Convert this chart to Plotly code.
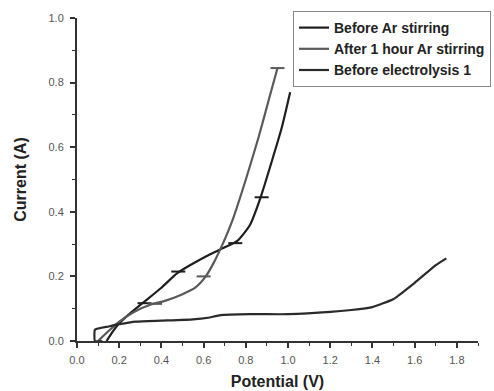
import plotly.graph_objects as go

# Data
before_ar_v = [0.14, 0.17, 0.20, 0.25, 0.31, 0.40, 0.475, 0.55, 0.62, 0.70, 0.76, 0.82, 0.87, 0.92, 0.97, 1.01]
before_ar_i = [0.0, 0.03, 0.055, 0.085, 0.117, 0.165, 0.21, 0.24, 0.265, 0.29, 0.31, 0.36, 0.445, 0.55, 0.66, 0.77]

after_ar_v = [0.10, 0.14, 0.20, 0.27, 0.35, 0.42, 0.50, 0.56, 0.61, 0.65, 0.69, 0.74, 0.80, 0.86, 0.91, 0.95]
after_ar_i = [0.0, 0.025, 0.06, 0.09, 0.113, 0.125, 0.145, 0.165, 0.2, 0.245, 0.3, 0.38, 0.50, 0.63, 0.75, 0.845]

electro_v = [0.12, 0.085, 0.085, 0.15, 0.20, 0.28, 0.40, 0.55, 0.62, 0.68, 0.82, 1.0, 1.2, 1.3, 1.4, 1.5, 1.6, 1.7, 1.75]
electro_i = [0.0, 0.0, 0.035, 0.045, 0.052, 0.06, 0.063, 0.067, 0.072, 0.08, 0.083, 0.083, 0.09, 0.096, 0.105, 0.13, 0.18, 0.235, 0.256]

# Small dash marks visible on the curves
before_ar_mark_v = [0.32, 0.48, 0.75, 0.875]
before_ar_mark_i = [0.117, 0.215, 0.303, 0.445]
after_ar_mark_v = [0.37, 0.60, 0.95]
after_ar_mark_i = [0.115, 0.2, 0.845]

series_names = ["Before Ar stirring", "After 1 hour Ar stirring", "Before electrolysis 1"]

x_ticks = [0.0, 0.2, 0.4, 0.6, 0.8, 1.0, 1.2, 1.4, 1.6, 1.8]
y_ticks = [0.0, 0.2, 0.4, 0.6, 0.8, 1.0]

c_before = "#1e1e1e"
c_after = "#5a5a5a"
c_elec = "#2a2a2a"

fig = go.Figure()
fig.add_trace(go.Scatter(x=before_ar_v, y=before_ar_i, mode="lines", name=series_names[0],
                         line=dict(color=c_before, width=2.2, shape="spline", smoothing=0.6)))
fig.add_trace(go.Scatter(x=after_ar_v, y=after_ar_i, mode="lines", name=series_names[1],
                         line=dict(color=c_after, width=2.2, shape="spline", smoothing=0.6)))
fig.add_trace(go.Scatter(x=electro_v, y=electro_i, mode="lines", name=series_names[2],
                         line=dict(color=c_elec, width=2.2, shape="spline", smoothing=0.4)))
fig.add_trace(go.Scatter(x=before_ar_mark_v, y=before_ar_mark_i, mode="markers", showlegend=False,
                         marker=dict(symbol="line-ew", size=10, line=dict(color=c_before, width=2))))
fig.add_trace(go.Scatter(x=after_ar_mark_v, y=after_ar_mark_i, mode="markers", showlegend=False,
                         marker=dict(symbol="line-ew", size=10, line=dict(color=c_after, width=2))))

font_family = "Liberation Sans, Arial, sans-serif"

axis_common = dict(
    showgrid=False, zeroline=False, showline=True, linecolor="#333", linewidth=2,
    ticks="outside", ticklen=5, tickwidth=1.5, tickcolor="#333",
    minor=dict(dtick=0.1, tick0=0, ticks="outside", ticklen=3, tickwidth=1.2, tickcolor="#333"),
    tickfont=dict(size=11, color="#555"),
    automargin=False,
)

# paper region: l=77, r=3, t=11, b=50 -> 414 x 330 px; plot area 401 x 323 px
fig.update_layout(
    width=494, height=391,
    margin=dict(l=77, r=3, t=11, b=50),
    paper_bgcolor="white", plot_bgcolor="white",
    font=dict(family=font_family, color="#333"),
    showlegend=True,
    legend=dict(
        x=1.0, y=1.0, xanchor="right", yanchor="top",
        bgcolor="white", bordercolor="#888", borderwidth=1,
        font=dict(family=font_family, size=14, color="#222", weight="bold"),
        tracegroupgap=0, itemwidth=30,
    ),
    xaxis=dict(
        domain=[0, 401 / 414],
        range=[0, 1.9], tickvals=x_ticks, ticktext=[f"{v:.1f}" for v in x_ticks],
        ticklabelstandoff=3,
        title=dict(text="<b>Potential (V)</b>", font=dict(size=16, color="#222"), standoff=11),
        **axis_common,
    ),
    yaxis=dict(
        domain=[0, 323 / 330],
        range=[0, 1.0], tickvals=y_ticks, ticktext=[f"{v:.1f}" for v in y_ticks],
        ticklabelstandoff=4,
        title=dict(text="<b>Current (A)</b>", font=dict(size=16, color="#222"), standoff=18),
        **axis_common,
    ),
)

fig.write_html("out.html")
